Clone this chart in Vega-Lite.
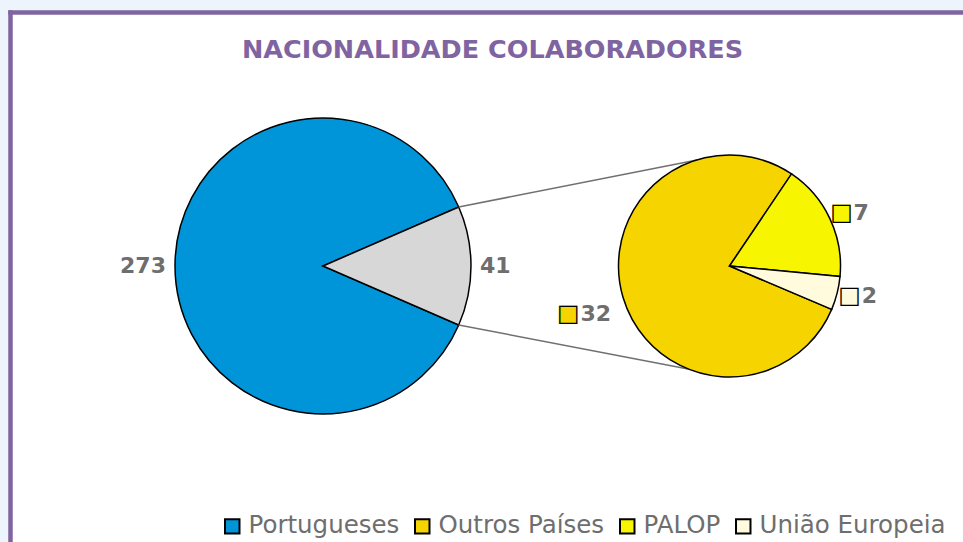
{
  "$schema": "https://vega.github.io/schema/vega-lite/v6.json",
  "width": 953,
  "height": 530,
  "autosize": {"type": "none"},
  "padding": {"left": 10, "top": 12, "right": 0, "bottom": 0},
  "background": "#EEF4FB",
  "title": {"text": "NACIONALIDADE COLABORADORES", "font": "DejaVu Sans", "fontSize": 25.5, "fontWeight": "bold", "color": "#8064A2", "anchor": "middle", "dy": 55, "dx": 6},
  "config": {"view": {"fill": "white", "stroke": null}},
  "resolve": {"scale": {"theta": "independent"}},
  "layer": [
    {
      "data": {"values": [
        {"categoria": "Portugueses", "valor": 273},
        {"categoria": "Outros", "valor": 41}
      ]},
      "encoding": {
        "x": {"datum": 323, "type": "quantitative", "scale": {"domain": [10, 963], "nice": false, "zero": false}, "axis": {"orient": "top", "title": null, "labels": false, "ticks": false, "grid": false, "domainColor": "#8064A2", "domainWidth": 4.5, "domainCap": "square"}},
        "y": {"datum": 266, "type": "quantitative", "scale": {"domain": [12, 542], "nice": false, "zero": false, "reverse": true}, "axis": {"orient": "left", "title": null, "labels": false, "ticks": false, "grid": false, "domainColor": "#8064A2", "domainWidth": 4.5, "domainCap": "square"}}
      },
      "layer": [
        {
          "mark": {"type": "arc", "outerRadius": 148, "stroke": "black", "strokeWidth": 1.5},
          "encoding": {
            "theta": {"field": "valor", "type": "quantitative", "stack": true, "scale": {"range": [1.1606, 7.4438]}},
            "order": {"field": "valor", "sort": "ascending"},
            "color": {"field": "categoria", "type": "nominal",
              "scale": {"domain": ["Portugueses", "Outros Países", "PALOP", "União Europeia", "Outros"], "range": ["#0095D9", "#F5D400", "#F8F500", "#FFFBDC", "#D7D7D7"]},
              "legend": {"orient": "none", "legendX": 210, "legendY": 502, "direction": "horizontal", "title": null, "padding": 0,
                "values": ["Portugueses", "Outros Países", "PALOP", "União Europeia"],
                "symbolType": "square", "symbolSize": 210, "symbolStrokeColor": "black", "symbolStrokeWidth": 2,
                "labelFont": "DejaVu Sans", "labelFontSize": 24.5, "labelColor": "#6E6E6E", "labelOffset": 4, "columnPadding": 10, "labelLimit": 400}}
          }
        },
        {
          "mark": {"type": "text", "radius": 157, "font": "DejaVu Sans", "fontWeight": "bold", "fontSize": 22, "fill": "#6E6E6E", "baseline": "middle",
            "align": {"expr": "datum.categoria === 'Portugueses' ? 'right' : 'left'"}},
          "encoding": {
            "theta": {"field": "valor", "type": "quantitative", "stack": true, "scale": {"range": [1.1606, 7.4438]}},
            "order": {"field": "valor", "sort": "ascending"},
            "detail": {"field": "categoria", "type": "nominal"},
            "text": {"field": "valor", "type": "quantitative"}
          }
        },
        {
          "transform": [{"filter": "datum.categoria === 'Outros'"}],
          "mark": {"type": "rule", "color": "#707070", "strokeWidth": 1.5},
          "encoding": {
            "x": {"datum": 458.7, "type": "quantitative", "scale": {"domain": [10, 963], "nice": false, "zero": false}, "axis": {"orient": "top", "title": null, "labels": false, "ticks": false, "grid": false, "domainColor": "#8064A2", "domainWidth": 4.5, "domainCap": "square"}},
            "y": {"datum": 207, "type": "quantitative", "scale": {"domain": [12, 542], "nice": false, "zero": false, "reverse": true}, "axis": {"orient": "left", "title": null, "labels": false, "ticks": false, "grid": false, "domainColor": "#8064A2", "domainWidth": 4.5, "domainCap": "square"}},
            "x2": {"datum": 697},
            "y2": {"datum": 160}
          }
        },
        {
          "transform": [{"filter": "datum.categoria === 'Outros'"}],
          "mark": {"type": "rule", "color": "#707070", "strokeWidth": 1.5},
          "encoding": {
            "x": {"datum": 458.7, "type": "quantitative", "scale": {"domain": [10, 963], "nice": false, "zero": false}, "axis": {"orient": "top", "title": null, "labels": false, "ticks": false, "grid": false, "domainColor": "#8064A2", "domainWidth": 4.5, "domainCap": "square"}},
            "y": {"datum": 325, "type": "quantitative", "scale": {"domain": [12, 542], "nice": false, "zero": false, "reverse": true}, "axis": {"orient": "left", "title": null, "labels": false, "ticks": false, "grid": false, "domainColor": "#8064A2", "domainWidth": 4.5, "domainCap": "square"}},
            "x2": {"datum": 688},
            "y2": {"datum": 369}
          }
        }
      ]
    },
    {
      "data": {"values": [
        {"categoria": "Outros Países", "valor": 32},
        {"categoria": "PALOP", "valor": 7},
        {"categoria": "União Europeia", "valor": 2}
      ]},
      "encoding": {
        "x": {"datum": 729.5, "type": "quantitative", "scale": {"domain": [10, 963], "nice": false, "zero": false}, "axis": {"orient": "top", "title": null, "labels": false, "ticks": false, "grid": false, "domainColor": "#8064A2", "domainWidth": 4.5, "domainCap": "square"}},
        "y": {"datum": 266, "type": "quantitative", "scale": {"domain": [12, 542], "nice": false, "zero": false, "reverse": true}, "axis": {"orient": "left", "title": null, "labels": false, "ticks": false, "grid": false, "domainColor": "#8064A2", "domainWidth": 4.5, "domainCap": "square"}}
      },
      "layer": [
        {
          "mark": {"type": "arc", "outerRadius": 111, "stroke": "black", "strokeWidth": 1.5},
          "encoding": {
            "theta": {"field": "valor", "type": "quantitative", "stack": true, "scale": {"range": [1.9722, 8.2554]}},
            "order": {"field": "valor", "sort": "descending"},
            "color": {"field": "categoria", "type": "nominal",
              "scale": {"domain": ["Portugueses", "Outros Países", "PALOP", "União Europeia", "Outros"], "range": ["#0095D9", "#F5D400", "#F8F500", "#FFFBDC", "#D7D7D7"]}}
          }
        },
        {
          "mark": {"type": "text", "font": "DejaVu Sans", "fontSize": 24, "baseline": "middle", "align": "center",
            "radius": {"expr": "datum.categoria === 'Outros Países' ? 168 : 124"}},
          "encoding": {
            "theta": {"field": "valor", "type": "quantitative", "stack": true, "scale": {"range": [1.9722, 8.2554]}},
            "order": {"field": "valor", "sort": "descending"},
            "detail": {"field": "categoria", "type": "nominal"},
            "fill": {"field": "categoria", "type": "nominal", "legend": null,
              "scale": {"domain": ["Portugueses", "Outros Países", "PALOP", "União Europeia", "Outros"], "range": ["#0095D9", "#F5D400", "#F8F500", "#FFFBDC", "#D7D7D7"]}},
            "text": {"value": "■"}
          }
        },
        {
          "mark": {"type": "text", "font": "DejaVu Sans", "fontSize": 24, "baseline": "middle", "align": "center", "fill": "black",
            "radius": {"expr": "datum.categoria === 'Outros Países' ? 168 : 124"}},
          "encoding": {
            "theta": {"field": "valor", "type": "quantitative", "stack": true, "scale": {"range": [1.9722, 8.2554]}},
            "order": {"field": "valor", "sort": "descending"},
            "detail": {"field": "categoria", "type": "nominal"},
            "text": {"value": "□"}
          }
        },
        {
          "mark": {"type": "text", "font": "DejaVu Sans", "fontWeight": "bold", "fontSize": 22, "fill": "#6E6E6E", "baseline": "middle", "align": "left", "dx": 12,
            "radius": {"expr": "datum.categoria === 'Outros Países' ? 168 : 124"}},
          "encoding": {
            "theta": {"field": "valor", "type": "quantitative", "stack": true, "scale": {"range": [1.9722, 8.2554]}},
            "order": {"field": "valor", "sort": "descending"},
            "detail": {"field": "categoria", "type": "nominal"},
            "text": {"field": "valor", "type": "quantitative"}
          }
        }
      ]
    }
  ]
}
